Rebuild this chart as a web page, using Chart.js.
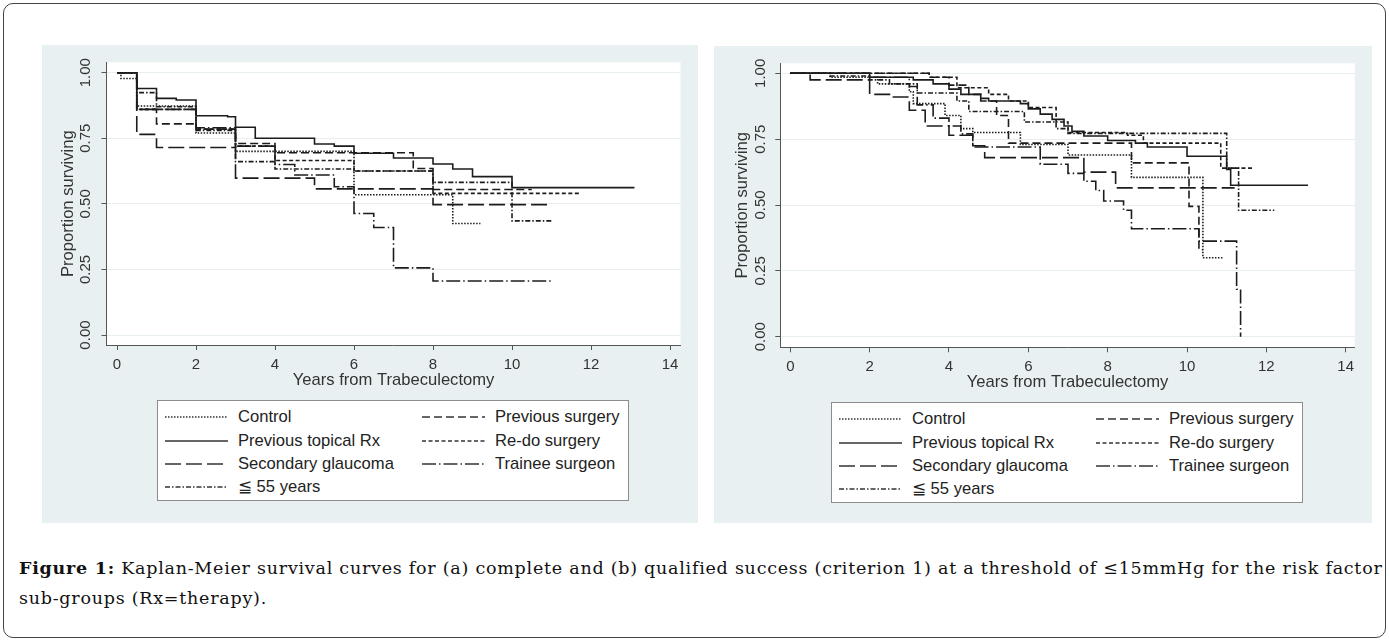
<!DOCTYPE html>
<html>
<head>
<meta charset="utf-8">
<script src="https://cdn.jsdelivr.net/npm/chart.js@4.4.0/dist/chart.umd.min.js"></script>
<style>
  body { margin: 0; width: 1389px; height: 641px; background: #fff; position: relative; overflow: hidden;
         font-family: "Liberation Sans", Arial, sans-serif; }
  #frame { position: absolute; left: 3px; top: 3px; width: 1383px; height: 635px; border: 1.5px solid #444;
           border-radius: 10px; box-sizing: border-box; }
  .panel { position: absolute; background: #e9f0f2; }
  .panel canvas { position: absolute; left: 0; top: 0; }
  .legend { position: absolute; width: 472px; height: 101px; background: #fff; border: 1px solid #8c8c8c; box-sizing: border-box; }
  .item { position: absolute; height: 20px; line-height: 20px; font-size: 16.6px; color: #222; white-space: nowrap; }
  .item svg { position: absolute; left: 0; top: 8px; }
  .item span { position: absolute; top: 0; }
  #caption { position: absolute; left: 19px; top: 553px; font-family: "DejaVu Serif", serif; font-size: 17.5px;
             letter-spacing: 0.75px; line-height: 30px; color: #111; white-space: nowrap; }
</style>
</head>
<body>
<div id="frame"></div>

<div class="panel" style="left:42px; top:45px; width:656px; height:478px;">
  <canvas id="chartA" width="656" height="478"></canvas>
  <div class="legend" id="legendA" style="left:115px; top:355px;"></div>
</div>

<div class="panel" style="left:714px; top:46px; width:658px; height:477px;">
  <canvas id="chartB" width="658" height="477"></canvas>
  <div class="legend" id="legendB" style="left:117px; top:356px;"></div>
</div>

<div id="caption"><b>Figure 1:</b> Kaplan-Meier survival curves for (a) complete and (b) qualified success (criterion 1) at a threshold of ≤15mmHg for the risk factor<br>sub-groups (Rx=therapy).</div>

<script>
// Groups, in legend order
const groups = ['Control', 'Previous surgery', 'Previous topical Rx', 'Re-do surgery',
                'Secondary glaucoma', 'Trainee surgeon', '\u2266 55 years'];
const dashes = [[1.5, 1.5], [8, 4], [], [4, 2.5], [16, 5], [14, 3, 1.5, 3], [5, 2, 1.5, 2]];

const xTicks = [0, 2, 4, 6, 8, 10, 12, 14];
const xTickLabels = ['0', '2', '4', '6', '8', '10', '12', '14'];
const yTicks = [0, 0.25, 0.5, 0.75, 1];
const yTickLabels = ['0.00', '0.25', '0.50', '0.75', '1.00'];
const xTitle = 'Years from Trabeculectomy';
const yTitle = 'Proportion surviving';

// (a) complete success: years, proportion surviving
const aControlT = [0, 0.1, 0.5, 2, 3, 6, 8.5, 9.2];
const aControlS = [1, 0.978, 0.873, 0.77, 0.70, 0.535, 0.425, 0.425];
const aPrevSurgT = [0, 0.5, 1, 2, 3, 4, 7.5, 8, 10.5];
const aPrevSurgS = [1, 0.86, 0.805, 0.785, 0.73, 0.695, 0.635, 0.555, 0.555];
const aTopicalT = [0, 0.5, 1, 1.5, 2, 2.8, 3, 3.5, 5, 5.5, 6, 7, 8, 8.5, 9, 10, 13.1];
const aTopicalS = [1, 0.94, 0.902, 0.896, 0.836, 0.832, 0.792, 0.75, 0.728, 0.72, 0.693, 0.675, 0.652, 0.633, 0.604, 0.562, 0.562];
const aRedoT = [0, 0.5, 2, 3, 4, 6, 8, 11.7];
const aRedoS = [1, 0.86, 0.785, 0.72, 0.665, 0.625, 0.54, 0.54];
const aSecondT = [0, 0.5, 1, 3, 5, 8, 11];
const aSecondS = [1, 0.765, 0.715, 0.598, 0.557, 0.497, 0.497];
const aTraineeT = [0, 0.5, 2, 3, 4, 4.5, 5.5, 6, 6.5, 7, 8, 11];
const aTraineeS = [1, 0.86, 0.79, 0.72, 0.65, 0.61, 0.565, 0.463, 0.41, 0.256, 0.206, 0.206];
const aYoungT = [0, 0.5, 1, 2, 3, 4, 6, 8, 10, 11];
const aYoungS = [1, 0.924, 0.87, 0.78, 0.661, 0.633, 0.625, 0.582, 0.435, 0.435];

// (b) qualified success
const bControlT = [0, 1, 2.2, 3, 3.1, 3.9, 4.3, 4.6, 5.8, 7, 8.6, 10.4, 10.9];
const bControlS = [1, 0.985, 0.96, 0.93, 0.885, 0.84, 0.79, 0.775, 0.73, 0.69, 0.605, 0.30, 0.30];
const bPrevSurgT = [0, 3.5, 4, 4.5, 4.8, 5.2, 5.5, 8.6, 10.05, 10.3, 10.4];
const bPrevSurgS = [1, 0.985, 0.955, 0.92, 0.895, 0.84, 0.735, 0.66, 0.495, 0.33, 0.33];
const bTopicalT = [0, 2, 3.1, 3.6, 4, 4.3, 4.8, 5, 5.8, 6, 6.3, 6.6, 6.9, 7.1, 7.4, 8, 8.7, 9, 10, 11, 11.1, 13.05];
const bTopicalS = [1, 0.985, 0.975, 0.96, 0.94, 0.92, 0.905, 0.895, 0.885, 0.865, 0.845, 0.825, 0.8, 0.78, 0.762, 0.745, 0.735, 0.72, 0.685, 0.635, 0.575, 0.575];
const bRedoT = [0, 3.5, 4.2, 5, 5.5, 6, 6.7, 7, 8.5, 8.9, 10.85, 11.7];
const bRedoS = [1, 0.985, 0.945, 0.92, 0.895, 0.87, 0.815, 0.775, 0.765, 0.735, 0.64, 0.64];
const bSecondT = [0, 0.5, 2, 2.5, 3, 3.4, 4, 4.6, 4.9, 7.4, 8.2, 11.2];
const bSecondS = [1, 0.975, 0.92, 0.91, 0.86, 0.80, 0.765, 0.725, 0.68, 0.625, 0.565, 0.565];
const bTraineeT = [0, 2, 3, 3.2, 3.6, 4, 4.3, 4.6, 6.3, 7, 7.4, 7.7, 7.9, 8.4, 8.6, 10.3, 11.25, 11.35];
const bTraineeS = [1, 0.985, 0.95, 0.88, 0.83, 0.8, 0.77, 0.72, 0.655, 0.62, 0.59, 0.555, 0.515, 0.48, 0.41, 0.363, 0.18, 0];
const bYoungT = [0, 1, 2, 2.5, 3.2, 4.2, 4.5, 5.9, 6.7, 7, 11, 11.3, 12.2];
const bYoungS = [1, 0.99, 0.975, 0.96, 0.925, 0.895, 0.855, 0.815, 0.79, 0.772, 0.64, 0.48, 0.48];

const lineColor = '#1c1c1c';
const axisColor = '#555';
const gridColor = '#e6eef0';
const textColor = '#333';

Chart.defaults.font.family = '"Liberation Sans", Arial, sans-serif';
Chart.defaults.color = textColor;

// white plot region inside the grey graph region
const plotBg = {
  id: 'plotBg',
  beforeDraw(chart) {
    const { ctx, chartArea: a } = chart;
    ctx.save();
    ctx.fillStyle = '#fff';
    ctx.fillRect(a.left, a.top, a.right - a.left, a.bottom - a.top);
    ctx.restore();
  }
};

function makeChart(id, series, g) {
  const datasets = series.map((s, i) => ({
    label: groups[i],
    data: s[0].map((t, k) => ({ x: t, y: s[1][k] })),
    borderColor: lineColor,
    borderWidth: 1.6,
    borderDash: dashes[i],
    pointRadius: 0,
    stepped: true,
    fill: false
  }));

  return new Chart(document.getElementById(id), {
    type: 'line',
    data: { datasets },
    options: {
      responsive: false,
      animation: false,
      devicePixelRatio: 1,
      layout: { padding: { left: 0, top: g.top, right: g.right, bottom: g.bottom } },
      plugins: { legend: { display: false }, tooltip: { enabled: false } },
      scales: {
        x: {
          type: 'linear', min: g.xMin, max: g.xMax,
          afterBuildTicks: s => { s.ticks = xTicks.map(v => ({ value: v })); },
          afterFit: s => { s.height = 45; },
          grid: { drawOnChartArea: false, tickLength: 5, tickColor: axisColor },
          border: { color: axisColor },
          ticks: { font: { size: 15 }, padding: 6, maxRotation: 0, autoSkip: false,
                   callback: (v, i) => xTickLabels[i] },
          title: { display: true, text: xTitle, font: { size: 16.6 }, padding: { top: 0, bottom: 0 } }
        },
        y: {
          type: 'linear', min: g.yMin, max: g.yMax,
          afterBuildTicks: s => { s.ticks = yTicks.map(v => ({ value: v })); },
          afterFit: s => { s.width = g.left; },
          grid: { color: gridColor, tickLength: 5, tickColor: axisColor },
          border: { color: axisColor },
          ticks: { font: { size: 15 }, padding: g.yTickPad, minRotation: 90, maxRotation: 90,
                   crossAlign: 'center', autoSkip: false, callback: (v, i) => yTickLabels[i] },
          title: { display: true, text: yTitle, font: { size: 16.6 }, padding: { top: g.yTitlePad, bottom: 0 } }
        }
      }
    },
    plugins: [plotBg]
  });
}

function makeLegend(id) {
  const box = document.getElementById(id);
  const rows = [15.5, 39.5, 62.5, 86];
  groups.forEach((name, i) => {
    const row = Math.floor(i / 2), col = i % 2;
    const item = document.createElement('div');
    item.className = 'item';
    item.style.left = (col ? 264 : 7) + 'px';
    item.style.top = (rows[row] - 10) + 'px';
    item.innerHTML = `
      <svg width="63" height="4"><line x1="0" y1="2" x2="63" y2="2" stroke="#333" stroke-width="1.6"
        stroke-dasharray="${dashes[i].length ? dashes[i].join(' ') : 'none'}"/></svg>
      <span style="left:73px">${name}</span>`;
    box.appendChild(item);
  });
}

makeChart('chartA',
  [[aControlT, aControlS], [aPrevSurgT, aPrevSurgS], [aTopicalT, aTopicalS], [aRedoT, aRedoS],
   [aSecondT, aSecondS], [aTraineeT, aTraineeS], [aYoungT, aYoungS]],
  { left: 64.5, top: 17.3, right: 17.4, bottom: 133, xMin: -0.266, xMax: 14.268,
    yMin: -0.038, yMax: 1.0396, yTickPad: 1, yTitlePad: 16.6 });

makeChart('chartB',
  [[bControlT, bControlS], [bPrevSurgT, bPrevSurgS], [bTopicalT, bTopicalS], [bRedoT, bRedoS],
   [bSecondT, bSecondS], [bTraineeT, bTraineeS], [bYoungT, bYoungS]],
  { left: 66.3, top: 17.3, right: 17.2, bottom: 130.7, xMin: -0.252, xMax: 14.229,
    yMin: -0.0402, yMax: 1.038, yTickPad: 0, yTitlePad: 18 });

makeLegend('legendA');
makeLegend('legendB');
</script>
</body>
</html>
